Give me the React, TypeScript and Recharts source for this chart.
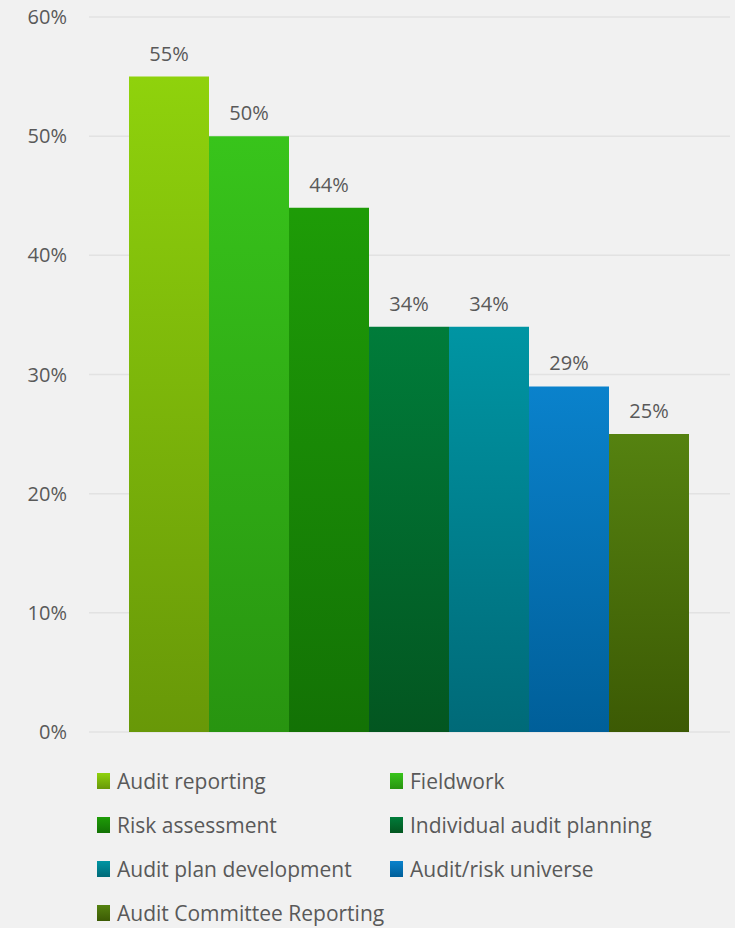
import React from 'react';
import {
  BarChart,
  Bar,
  XAxis,
  YAxis,
  CartesianGrid,
  LabelList,
  Legend,
} from 'recharts';

const categories = [
  'Audit reporting',
  'Fieldwork',
  'Risk assessment',
  'Individual audit planning',
  'Audit plan development',
  'Audit/risk universe',
  'Audit Committee Reporting',
];
const values = [55, 50, 44, 34, 34, 29, 25];
const yTicks = [0, 10, 20, 30, 40, 50, 60];

const topColors = ['#8fd20c', '#38c41b', '#1e9c07', '#007c3a', '#0095a3', '#0a82cc', '#558210'];
const bottomColors = ['#689808', '#289410', '#137205', '#035620', '#006a78', '#005f99', '#3c5a04'];

const keyOf = (i: number) => `s${i}`;

const row: Record<string, string | number> = { name: 'share' };
values.forEach((v, i) => {
  row[keyOf(i)] = v;
});
const data = [row];

const FONT = '"Open Sans", sans-serif';
const TEXT = '#595959';

const CustomLegend: React.FC = () => (
  <div style={styles.legend}>
    {categories.map((c, i) => (
      <div key={c} style={styles.legendItem}>
        <span
          style={{
            ...styles.swatch,
            background: `linear-gradient(${topColors[i]}, ${bottomColors[i]})`,
          }}
        />
        <span>{c}</span>
      </div>
    ))}
  </div>
);

export default function App() {
  return (
    <div style={styles.page}>
      <BarChart
        width={735}
        height={928}
        data={data}
        margin={{ top: 17, right: 5, bottom: 10, left: 0 }}
        barCategoryGap={40}
        barGap={0}
      >
        <defs>
          {categories.map((c, i) => (
            <linearGradient key={c} id={`g${i}`} x1="0" y1="0" x2="0" y2="1">
              <stop offset="0%" stopColor={topColors[i]} />
              <stop offset="100%" stopColor={bottomColors[i]} />
            </linearGradient>
          ))}
        </defs>
        <CartesianGrid vertical={false} stroke="#e2e2e2" strokeWidth={1.5} />
        <XAxis dataKey="name" hide />
        <YAxis
          domain={[0, 60]}
          ticks={yTicks}
          tickFormatter={(v: number) => `${v}%`}
          axisLine={false}
          tickLine={false}
          width={89}
          tickMargin={16}
          tick={{ fontSize: 20, fontFamily: FONT, fill: TEXT }}
        />
        <Legend verticalAlign="bottom" content={() => <CustomLegend />} />
        {categories.map((c, i) => (
          <Bar
            key={c}
            dataKey={keyOf(i)}
            name={c}
            fill={`url(#g${i})`}
            isAnimationActive={false}
          >
            <LabelList
              dataKey={keyOf(i)}
              position="top"
              offset={16}
              formatter={(v: number) => `${v}%`}
              style={{ fontSize: 20, fontFamily: FONT, fill: TEXT }}
            />
          </Bar>
        ))}
      </BarChart>
    </div>
  );
}

const styles: Record<string, React.CSSProperties> = {
  page: {
    position: 'absolute',
    left: 0,
    top: 0,
    width: 735,
    height: 928,
    overflow: 'hidden',
    backgroundColor: '#f1f1f1',
    fontFamily: FONT,
  },
  legend: {
    width: 735,
    height: 186,
    boxSizing: 'border-box',
    paddingTop: 27,
    paddingLeft: 97,
    display: 'grid',
    gridTemplateColumns: '293px 293px',
    gridAutoRows: 44,
  },
  legendItem: {
    display: 'flex',
    alignItems: 'center',
    gap: 7,
    fontSize: 21,
    lineHeight: '24px',
    color: TEXT,
    fontFamily: FONT,
    whiteSpace: 'nowrap',
  },
  swatch: {
    display: 'inline-block',
    width: 13,
    height: 16,
  },
};
